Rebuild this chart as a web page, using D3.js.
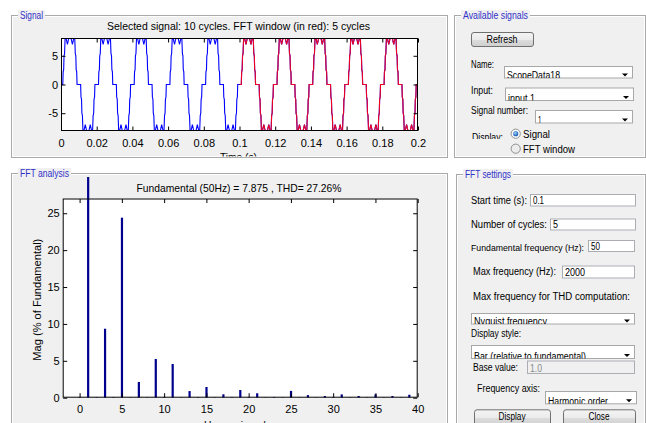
<!DOCTYPE html>
<html><head><meta charset="utf-8">
<script src="https://cdn.jsdelivr.net/npm/d3@7"></script>
<style>
html,body{margin:0;padding:0;background:#fff;overflow:hidden;}
svg{display:block;font-family:"Liberation Sans",Arial,sans-serif;}
</style></head><body>
<svg id="c" width="646" height="423"></svg>
<script>
// ---------------- data ----------------
const signalTitle = "Selected signal: 10 cycles. FFT window (in red): 5 cycles";
const signalXLabel = "Time (s)";
// one 50 Hz cycle of the displayed signal (time in ms, value)
const cycleTimeMs = [0, 1.0, 1.2, 1.5, 1.7, 2.0, 2.3, 2.8, 3.6, 4.4, 5.6, 6.4, 7.2, 7.7, 8.0, 8.3, 8.5, 8.8, 9.0,
                     11.0, 11.2, 11.5, 11.7, 12.0, 12.3, 12.8, 13.6, 14.4, 15.6, 16.4, 17.2, 17.7, 18.0, 18.3, 18.5, 18.8, 19.0, 20.0];
const cycleValue  = [0, 0, 2.2, 2.6, 5.0, 5.4, 8.1, 8.1, 7.0, 8.1, 8.1, 7.0, 8.1, 8.1, 5.4, 5.0, 2.6, 2.2, 0,
                     0, -2.2, -2.6, -5.0, -5.4, -8.1, -8.1, -7.0, -8.1, -8.1, -7.0, -8.1, -8.1, -5.4, -5.0, -2.6, -2.2, 0, 0];
const cycleCount = 10;
const cyclePeriod = 0.02;
const fftWindowStart = 0.1;
const timeTicks = [0, 0.02, 0.04, 0.06, 0.08, 0.1, 0.12, 0.14, 0.16, 0.18, 0.2];
const signalYTicks = [-5, 0, 5];

const fftTitle = "Fundamental (50Hz) = 7.875 , THD= 27.26%";
const fftYLabel = "Mag (% of Fundamental)";
const fftXLabel = "Harmonic order";
const harmonicOrder = [0,1,2,3,4,5,6,7,8,9,10,11,12,13,14,15,16,17,18,19,20,
                       21,22,23,24,25,26,27,28,29,30,31,32,33,34,35,36,37,38,39,40];
const harmonicMag = [0.1, 100, 0.08, 9.35, 0.08, 24.4, 0.05, 2.13, 0.05, 5.25, 0.1, 4.57, 0.05, 0.9, 0.08, 1.45,
                     0.05, 0.46, 0.08, 1.04, 0.1, 0.6, 0.05, 0.1, 0.05, 0.92, 0.05, 0.35, 0.05, 0.23, 0.1,
                     0.45, 0.05, 0.23, 0.05, 0.45, 0.05, 0.23, 0.05, 0.4, 0.05];
const fftXTicks = [0, 5, 10, 15, 20, 25, 30, 35, 40];
const fftYTicks = [0, 5, 10, 15, 20, 25];

// ---------------- helpers ----------------
const svg = d3.select("#c");
const defs = svg.append("defs");
const grad = defs.append("linearGradient").attr("id","btn").attr("x1",0).attr("x2",0).attr("y1",0).attr("y2",1);
grad.append("stop").attr("offset","0%").attr("stop-color","#f4f4f4");
grad.append("stop").attr("offset","50%").attr("stop-color","#ebebeb");
grad.append("stop").attr("offset","51%").attr("stop-color","#dddddd");
grad.append("stop").attr("offset","100%").attr("stop-color","#cfcfcf");
const rg = defs.append("radialGradient").attr("id","radOn").attr("cx","40%").attr("cy","35%").attr("r","60%");
rg.append("stop").attr("offset","0%").attr("stop-color","#9fd3ff");
rg.append("stop").attr("offset","100%").attr("stop-color","#1c5fb3");
let clipId = 0;
function clip(x, y, w, h) {
  const id = "cl" + (clipId++);
  defs.append("clipPath").attr("id", id).append("rect").attr("x", x).attr("y", y).attr("width", w).attr("height", h);
  return "url(#" + id + ")";
}
function txt(g, x, y, s, o = {}) {
  const t = g.append("text").attr("x", x).attr("y", y).text(s)
    .attr("font-size", o.size || 10).attr("fill", o.fill || "#000");
  if (o.len) t.attr("textLength", o.len).attr("lengthAdjust", "spacingAndGlyphs");
  if (o.anchor) t.attr("text-anchor", o.anchor);
  return t;
}
function panel(x, y, w, h, label, len) {
  const g = svg.append("g");
  g.append("rect").attr("x", x + 0.5).attr("y", y + 0.5).attr("width", w).attr("height", h)
    .attr("fill", "#f0f0f0").attr("stroke", "#a9a9a9");
  g.append("rect").attr("x", x + 1.5).attr("y", y + 1.5).attr("width", w - 2).attr("height", h - 2)
    .attr("fill", "none").attr("stroke", "#ffffff");
  g.append("rect").attr("x", x + 7).attr("y", y - 5).attr("width", len + 4).attr("height", 11).attr("fill", "#f0f0f0");
  txt(g, x + 9, y + 3.5, label, { fill: "#3030c8", len: len });
  return g;
}
function editBox(g, x, y, w, h, val, len, disabled) {
  g.append("rect").attr("x", x + 0.5).attr("y", y + 0.5).attr("width", w).attr("height", h)
    .attr("fill", disabled ? "#f0f0f0" : "#fff").attr("stroke", "#abadb3");
  txt(g, x + 3, y + h - 1.5, val, { len: len, fill: disabled ? "#8a8a8a" : "#000" });
}
function popup(g, x, y, w, h, val, len) {
  g.append("rect").attr("x", x + 0.5).attr("y", y + 0.5).attr("width", w).attr("height", h)
    .attr("fill", "#fff").attr("stroke", "#a8a8a8");
  txt(g, x + 3, y + h + 1.5, val, { len: len }).attr("clip-path", clip(x + 1, y + 1, w - 1, h - 0.5));
  const cx = x + w - 7, cy = y + h - 2.5;
  g.append("path").attr("d", `M${cx - 3},${cy - 1.5}L${cx + 3},${cy - 1.5}L${cx},${cy + 1.5}Z`).attr("fill", "#000");
}
function button(g, x, y, w, h, label, len) {
  g.append("rect").attr("x", x + 0.5).attr("y", y + 0.5).attr("width", w).attr("height", h).attr("rx", 2.5)
    .attr("fill", "url(#btn)").attr("stroke", "#707070");
  txt(g, x + w / 2, y + 10.5, label, { len: len, anchor: "middle" });
}
function radio(g, cx, cy, on) {
  g.append("circle").attr("cx", cx).attr("cy", cy).attr("r", 4.6).attr("fill", on ? "#fff" : "#ececec").attr("stroke", "#8e8f8f");
  if (on) g.append("circle").attr("cx", cx).attr("cy", cy).attr("r", 2.6).attr("fill", "url(#radOn)");
}
function ticksInward(g, x, y, xs, ys, x0, x1, y0, y1) {
  g.append("g").attr("transform", `translate(0,${y1})`)
    .call(d3.axisBottom(xs).tickValues(x).tickSizeInner(-4).tickSizeOuter(0).tickFormat(""))
    .call(a => a.select(".domain").remove());
  g.append("g").attr("transform", `translate(0,${y0})`)
    .call(d3.axisTop(xs).tickValues(x).tickSizeInner(-4).tickSizeOuter(0).tickFormat(""))
    .call(a => a.select(".domain").remove());
  g.append("g").attr("transform", `translate(${x0},0)`)
    .call(d3.axisLeft(ys).tickValues(y).tickSizeInner(-4).tickSizeOuter(0).tickFormat(""))
    .call(a => a.select(".domain").remove());
  g.append("g").attr("transform", `translate(${x1},0)`)
    .call(d3.axisRight(ys).tickValues(y).tickSizeInner(-4).tickSizeOuter(0).tickFormat(""))
    .call(a => a.select(".domain").remove());
  g.selectAll(".tick line").attr("stroke", "#000");
}
function tickLabels(g, xs, ys, xv, yv, x0, y1, xfmt, yfmt) {
  g.append("g").attr("transform", `translate(0,${y1})`)
    .call(d3.axisBottom(xs).tickValues(xv).tickSize(0).tickPadding(8).tickFormat(xfmt))
    .call(a => a.select(".domain").remove())
    .selectAll("text").attr("font-size", 11).attr("font-family", "Liberation Sans, Arial, sans-serif").attr("fill", "#000");
  g.append("g").attr("transform", `translate(${x0},0)`)
    .call(d3.axisLeft(ys).tickValues(yv).tickSize(0).tickPadding(3).tickFormat(yfmt))
    .call(a => a.select(".domain").remove())
    .selectAll("text").attr("font-size", 11).attr("font-family", "Liberation Sans, Arial, sans-serif").attr("fill", "#000");
}

// ---------------- panels ----------------
panel(11, 15, 436, 142, "Signal", 23);
panel(11, 173, 436, 262, "FFT analysis", 49);
const avail = panel(454, 15, 191, 142, "Available signals", 65);
const sets = panel(456, 174, 189, 262, "FFT settings", 46);

// ---------------- signal plot ----------------
{
  const X0 = 61, X1 = 418, Y0 = 38, Y1 = 131;
  const xs = d3.scaleLinear().domain([0, 0.2]).range([X0, X1]);
  const ys = d3.scaleLinear().domain([-8.1, 8.1]).range([Y1, Y0]);
  const g = svg.append("g");
  g.append("rect").attr("x", X0).attr("y", Y0).attr("width", X1 - X0).attr("height", Y1 - Y0).attr("fill", "#fff");
  const pts = [];
  for (let c = 0; c < cycleCount; c++)
    cycleTimeMs.forEach((t, i) => pts.push([c * cyclePeriod + t / 1000, cycleValue[i]]));
  const line = d3.line().x(d => xs(d[0])).y(d => ys(d[1]));
  const cp = clip(X0, Y0, X1 - X0, Y1 - Y0);
  g.append("path").attr("d", line(pts)).attr("fill", "none").attr("stroke", "#0000ff").attr("stroke-width", 1.1).attr("clip-path", cp);
  g.append("path").attr("d", line(pts.filter(d => d[0] >= fftWindowStart - 1e-9))).attr("fill", "none")
    .attr("stroke", "#ee0022").attr("stroke-width", 1.1).attr("clip-path", cp);
  g.append("rect").attr("x", X0 + 0.5).attr("y", Y0 + 0.5).attr("width", X1 - X0 - 1).attr("height", Y1 - Y0 - 1)
    .attr("fill", "none").attr("stroke", "#000");
  ticksInward(g, timeTicks, signalYTicks, xs, ys, X0 + 0.5, X1 - 0.5, Y0 + 0.5, Y1 - 0.5);
  tickLabels(g, xs, ys, timeTicks, signalYTicks, X0, Y1, d3.format("~g"), d => d3.format("~g")(d).replace("−", "-"));
  txt(g, 238.5, 29.5, signalTitle, { size: 10.5, len: 263, anchor: "middle" });
  txt(g, 238.5, 160.5, signalXLabel, { size: 10.5, len: 37, anchor: "middle" }).attr("clip-path", clip(11, 140, 436, 16.5));
}

// ---------------- FFT plot ----------------
{
  const X0 = 62.7, X1 = 417.7, Y0 = 198.5, Y1 = 397.7;
  const xs = d3.scaleLinear().domain([-2, 40]).range([X0, X1]);
  const ys = d3.scaleLinear().domain([0, 27]).range([Y1, Y0]);
  const g = svg.append("g");
  g.append("rect").attr("x", X0).attr("y", Y0).attr("width", X1 - X0).attr("height", Y1 - Y0).attr("fill", "#fff");
  g.append("g").attr("clip-path", clip(X0, 177, X1 - X0, Y1 - 177))
    .selectAll("rect").data(harmonicOrder).join("rect")
    .attr("x", d => xs(d) - 1).attr("width", 2.2)
    .attr("y", (d, i) => ys(harmonicMag[i])).attr("height", (d, i) => ys(0) - ys(harmonicMag[i]))
    .attr("fill", "#00008f");
  g.append("rect").attr("x", X0 + 0.5).attr("y", Y0 + 0.5).attr("width", X1 - X0 - 1).attr("height", Y1 - Y0 - 1)
    .attr("fill", "none").attr("stroke", "#000");
  ticksInward(g, fftXTicks, fftYTicks, xs, ys, X0 + 0.5, X1 - 0.5, Y0 + 0.5, Y1 - 0.5);
  tickLabels(g, xs, ys, fftXTicks, fftYTicks, X0, Y1, d3.format("d"), d3.format("d"));
  txt(g, 239, 191.5, fftTitle, { size: 10.5, len: 205, anchor: "middle" });
  txt(g, 0, 0, fftYLabel, { size: 11, len: 122, anchor: "middle" })
    .attr("transform", "translate(41,299.7) rotate(-90)");
  txt(g, 239.5, 429, fftXLabel, { size: 10.5, len: 71, anchor: "middle" });
}

// ---------------- Available signals ----------------
{
  const g = avail;
  button(g, 471, 32, 62, 14, "Refresh", 31);
  txt(g, 471, 67.5, "Name:", { len: 23 });
  popup(g, 504, 66, 128, 11.5, "ScopeData18", 53);
  txt(g, 471, 94, "Input:", { len: 22 });
  popup(g, 505, 87.5, 128, 12.5, "input 1", 27);
  txt(g, 471, 113.5, "Signal number:", { len: 57 });
  popup(g, 535, 110, 97, 12.5, "1", 3.5);
  txt(g, 472, 140.5, "Display:", { len: 31 }).attr("clip-path", clip(469, 128, 40, 11));
  radio(g, 515.7, 133.7, true);
  txt(g, 523, 137.5, "Signal", { len: 27 });
  radio(g, 515.7, 148.7, false);
  txt(g, 523, 152.5, "FFT window", { len: 52 });
}

// ---------------- FFT settings ----------------
{
  const g = sets;
  txt(g, 471, 203.5, "Start time (s):", { len: 56 });
  editBox(g, 530, 194, 105, 11.5, "0.1", 11);
  txt(g, 471, 227.8, "Number of cycles:", { len: 76 });
  editBox(g, 550, 218.5, 85, 11, "5", 5);
  txt(g, 471, 251, "Fundamental frequency (Hz):", { len: 113, size: 9 });
  editBox(g, 588, 240, 46, 11, "50", 9);
  txt(g, 473, 275, "Max frequency (Hz):", { len: 83 });
  editBox(g, 562, 265.5, 72, 12, "2000", 20);
  txt(g, 473, 300, "Max frequency for THD computation:", { len: 157 });
  popup(g, 471, 313, 163, 10.5, "Nyquist frequency", 73);
  txt(g, 471, 337, "Display style:", { len: 50 });
  popup(g, 471, 345, 163, 13, "Bar (relative to fundamental)", 112);
  txt(g, 473, 371, "Base value:", { len: 45 });
  editBox(g, 527, 360.5, 107, 12.5, "1.0", 12, true);
  txt(g, 477, 391.8, "Frequency axis:", { len: 63 });
  popup(g, 545, 391, 91, 12.3, "Harmonic order", 60);
  button(g, 474, 409.3, 76, 16, "Display", 27);
  button(g, 563, 409.3, 72, 16, "Close", 21);
}
</script>
</body></html>
